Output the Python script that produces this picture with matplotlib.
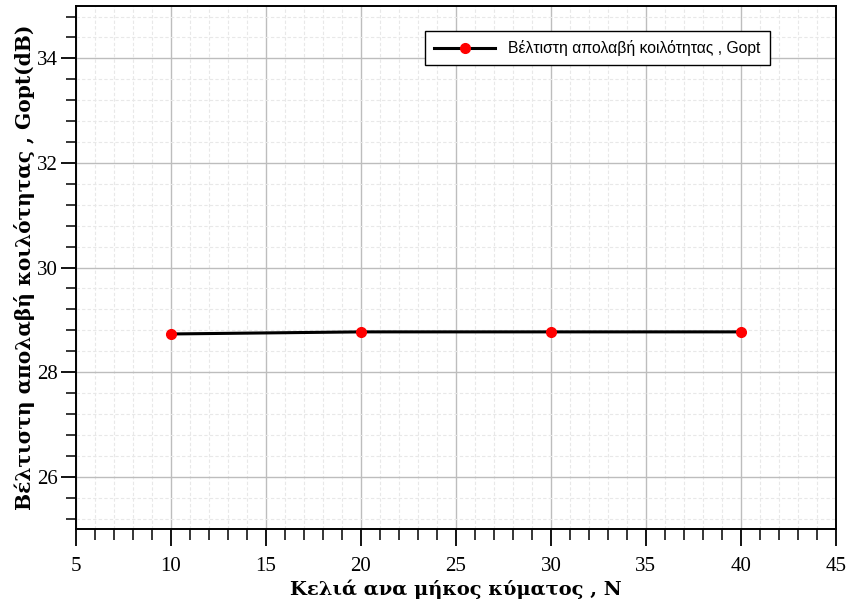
import matplotlib.pyplot as plt
from matplotlib.ticker import MultipleLocator

# cells per wavelength vs optimum cavity gain
N = [10, 20, 30, 40]
gopt = [28.73, 28.77, 28.77, 28.77]

fig = plt.figure(figsize=(8.53, 6.06), dpi=100)
ax = fig.add_axes([0.089, 0.127, 0.891, 0.863])

ax.plot(N, gopt, color='black', lw=2.2, marker='o', ms=7,
        mfc='red', mec='red', label='Βέλτιστη απολαβή κοιλότητας , Gopt')

ax.set_xlim(5, 45)
ax.set_ylim(25, 35)
ax.xaxis.set_major_locator(MultipleLocator(5))
ax.xaxis.set_minor_locator(MultipleLocator(1))
ax.yaxis.set_major_locator(MultipleLocator(2))
ax.yaxis.set_minor_locator(MultipleLocator(0.4))

ax.grid(which='major', color='#bdbdbd', lw=1.0)
ax.grid(which='minor', color='#e8e8e8', lw=0.8, ls=(0, (3, 2)))
ax.set_axisbelow(True)

ax.tick_params(axis='x', which='major', length=12, pad=8)
ax.tick_params(axis='x', which='minor', length=8)
ax.tick_params(axis='y', which='major', length=11, pad=2)
ax.tick_params(axis='y', which='minor', length=7)
ax.tick_params(which='major', direction='out', width=1.3, top=False, right=False)
ax.tick_params(which='minor', direction='out', width=1.1, top=False, right=False)
for lbl in ax.get_xticklabels() + ax.get_yticklabels():
    lbl.set_family('Liberation Serif')
    lbl.set_fontsize(15)
for s in ax.spines.values():
    s.set_linewidth(1.4)

ax.set_xlabel('Κελιά ανα μήκος κύματος , N', family='DejaVu Serif',
              fontweight='bold', fontsize=14, labelpad=3)
ax.set_ylabel('Βέλτιστη απολαβή κοιλότητας , Gopt(dB)', family='DejaVu Serif',
              fontweight='bold', fontsize=14.5, labelpad=1)

leg = ax.legend(loc='upper right', bbox_to_anchor=(0.923, 0.968),
                prop={'family': 'Liberation Sans', 'size': 11.3},
                fancybox=False, edgecolor='black', framealpha=1,
                handlelength=3.9, borderpad=0.6)
leg.get_frame().set_linewidth(1.0)

fig.savefig('out.png', dpi=100)
